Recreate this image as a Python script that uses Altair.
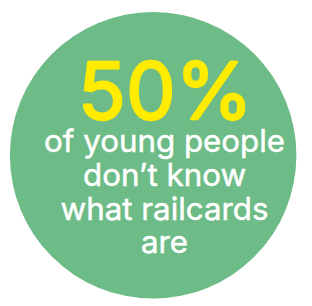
import altair as alt
import pandas as pd

share = [100]
stat_label = ["50%"]
lines = ["of young people", "don\u2019t know", "what railcards", "are"]

circle_df = pd.DataFrame({"share": share})
stat_df = pd.DataFrame({"label": stat_label, "row": [0]})
lines_df = pd.DataFrame({"label": lines, "row": list(range(len(lines)))})

W, H = 312, 306

disc = alt.Chart(circle_df).mark_arc(radius=151, color="#6dbb86").encode(
    theta=alt.Theta("share:Q", stack=True),
    x=alt.value(153),
    y=alt.value(147),
)

stat = alt.Chart(stat_df).mark_text(
    font="Inter", fontSize=83, fontWeight=400, color="#ffec00",
    stroke="#ffec00", strokeWidth=2.4, strokeJoin="round",
    align="center", baseline="alphabetic",
).encode(
    text="label:N",
    x=alt.value(166),
    y=alt.value(109),
)

body = alt.Chart(lines_df).mark_text(
    font="Inter", fontSize=33, fontWeight=400, color="#ffffff",
    stroke="#ffffff", strokeWidth=0.5,
    align="center", baseline="alphabetic",
).encode(
    text="label:N",
    x=alt.value(165),
    y=alt.Y("row:Q", scale=alt.Scale(domain=[0, 3], range=[144, 250]), axis=None),
)

chart = alt.layer(disc, stat, body).properties(
    width=W, height=H, padding=0, autosize=alt.AutoSizeParams(type="none"),
    background="#ffffff",
).configure_view(stroke=None)

chart.save("out.html", embed_options={"renderer": "svg", "actions": False})
